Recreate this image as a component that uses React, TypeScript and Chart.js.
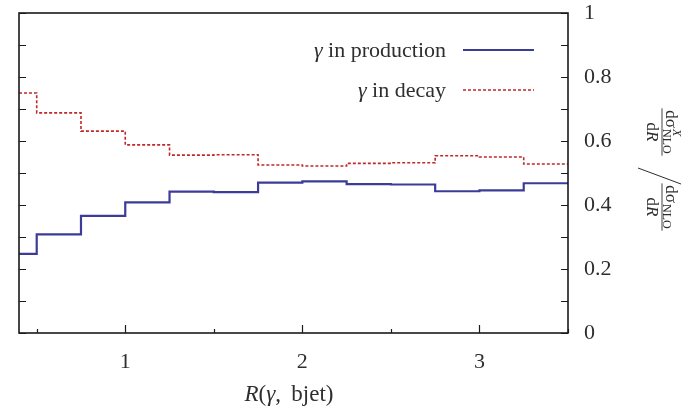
import React, { useEffect, useRef } from 'react';
import { Chart, registerables } from 'chart.js';

Chart.register(...registerables);

// ---- data ----
const binEdges = [0.4, 0.5, 0.75, 1.0, 1.25, 1.5, 1.75, 2.0, 2.25, 2.5, 2.75, 3.0, 3.25, 3.5];
const production = [0.247, 0.308, 0.366, 0.408, 0.442, 0.440, 0.470, 0.474, 0.465, 0.464, 0.443, 0.446, 0.468];
const decay = [0.750, 0.688, 0.631, 0.588, 0.556, 0.557, 0.525, 0.522, 0.530, 0.532, 0.554, 0.550, 0.528];
const seriesLabels = ['in production', 'in decay'];
const xMajorTicks = [1, 2, 3];
const xMinorTicks = [0.5, 1.5, 2.5, 3.5];
const yTickValues = [0, 0.1, 0.2, 0.3, 0.4, 0.5, 0.6, 0.7, 0.8, 0.9, 1.0];

const FONT = '"Liberation Serif", "DejaVu Serif", serif';
const TEXT = '#2e2e2e';
const BLUE = '#3c3c98';
const RED = '#c0282a';

type Seg = { t: string; italic?: boolean; size: number; dy?: number };

function segWidth(ctx: CanvasRenderingContext2D, segs: Seg[]) {
  let w = 0;
  for (const s of segs) {
    ctx.font = `${s.italic ? 'italic ' : ''}${s.size}px ${FONT}`;
    w += ctx.measureText(s.t).width;
  }
  return w;
}

function drawSegs(ctx: CanvasRenderingContext2D, segs: Seg[], x: number, y: number) {
  let cx = x;
  for (const s of segs) {
    ctx.font = `${s.italic ? 'italic ' : ''}${s.size}px ${FONT}`;
    ctx.fillText(s.t, cx, y + (s.dy || 0));
    cx += ctx.measureText(s.t).width;
  }
  return cx;
}

// each bin value holds from its left edge to the next edge (last value repeated at the right edge)
function stepPoints(vals: number[]) {
  return binEdges.map((x, i) => ({ x, y: vals[Math.min(i, vals.length - 1)] }));
}

const decorPlugin = {
  id: 'decor',
  afterDraw(chart: any) {
    const ctx: CanvasRenderingContext2D = chart.ctx;
    const { left, right, top, bottom } = chart.chartArea;
    const xs = chart.scales.x;
    const ys = chart.scales.y;
    ctx.save();
    // frame
    ctx.strokeStyle = '#1a1a1a';
    ctx.lineWidth = 1.6;
    ctx.strokeRect(left, top, right - left, bottom - top);
    // y ticks (inward, both sides)
    ctx.lineWidth = 1.2;
    for (const v of yTickValues) {
      const py = Math.round(ys.getPixelForValue(v)) + 0.5;
      ctx.beginPath();
      ctx.moveTo(left, py); ctx.lineTo(left + 7, py);
      ctx.moveTo(right, py); ctx.lineTo(right - 7, py);
      ctx.stroke();
    }
    // x ticks
    for (const v of xMajorTicks) {
      const px = Math.round(xs.getPixelForValue(v)) + 0.5;
      ctx.beginPath(); ctx.moveTo(px, bottom); ctx.lineTo(px, bottom - 8); ctx.stroke();
    }
    for (const v of xMinorTicks) {
      const px = Math.round(xs.getPixelForValue(v)) + 0.5;
      ctx.beginPath(); ctx.moveTo(px, bottom); ctx.lineTo(px, bottom - 4); ctx.stroke();
    }

    // legend
    ctx.fillStyle = TEXT;
    ctx.textBaseline = 'alphabetic';
    const legendRight = 446;
    const rows = [
      { label: seriesLabels[0], y: 57, color: BLUE, dash: [] as number[], lw: 2.2 },
      { label: seriesLabels[1], y: 97, color: RED, dash: [3, 2], lw: 1.6 },
    ];
    for (const r of rows) {
      const segs: Seg[] = [{ t: 'γ', italic: true, size: 22 }, { t: ' ' + r.label, size: 22 }];
      const w = segWidth(ctx, segs);
      drawSegs(ctx, segs, legendRight - w, r.y);
      ctx.strokeStyle = r.color;
      ctx.lineWidth = r.lw;
      ctx.setLineDash(r.dash);
      ctx.beginPath();
      ctx.moveTo(463, r.y - 7);
      ctx.lineTo(534, r.y - 7);
      ctx.stroke();
      ctx.setLineDash([]);
    }

    // x title
    const xt: Seg[] = [
      { t: 'R', italic: true, size: 23 },
      { t: '(', size: 23 },
      { t: 'γ', italic: true, size: 23 },
      { t: ', \u2009bjet)', size: 23 },
    ];
    const xw = segWidth(ctx, xt);
    drawSegs(ctx, xt, 289 - xw / 2, 401);

    // y title (rotated clockwise)
    ctx.translate(662, 170);
    ctx.rotate(Math.PI / 2);
    const BIG = 17;
    const SMALL = 12;
    const drawFrac = (cx: number, hasX: boolean) => {
      ctx.font = `${BIG}px ${FONT}`;
      const wd = ctx.measureText('dσ').width;
      ctx.font = `${SMALL}px ${FONT}`;
      const wn = ctx.measureText('NLO').width;
      const numW = wd + wn + 1;
      const dR: Seg[] = [{ t: 'd', size: BIG }, { t: 'R', italic: true, size: BIG }];
      const wdR = segWidth(ctx, dR);
      const barW = Math.max(numW, wdR) + 4;
      const x0 = cx - numW / 2;
      ctx.font = `${BIG}px ${FONT}`;
      ctx.fillText('dσ', x0, -4);
      ctx.font = `${SMALL}px ${FONT}`;
      ctx.fillText('NLO', x0 + wd + 1, -1);
      if (hasX) {
        ctx.font = `italic ${SMALL}px ${FONT}`;
        ctx.fillText('X', x0 + wd + 1, -11);
      }
      ctx.strokeStyle = TEXT;
      ctx.lineWidth = 0.9;
      ctx.beginPath(); ctx.moveTo(cx - barW / 2, 0); ctx.lineTo(cx + barW / 2, 0); ctx.stroke();
      drawSegs(ctx, dR, cx - wdR / 2, 15);
    };
    drawFrac(-38, true);
    drawFrac(37, false);
    ctx.strokeStyle = TEXT;
    ctx.lineWidth = 1;
    ctx.beginPath(); ctx.moveTo(-2, 24); ctx.lineTo(14, -19); ctx.stroke();
    ctx.restore();
  },
};

export default function App() {
  const ref = useRef<HTMLCanvasElement>(null);
  useEffect(() => {
    document.body.style.margin = '0';
    const canvas = ref.current!;
    const chart = new Chart(canvas, {
      type: 'line',
      data: {
        datasets: [
          {
            label: 'γ ' + seriesLabels[0],
            data: stepPoints(production),
            borderColor: BLUE,
            borderWidth: 2.2,
            stepped: 'before',
            pointRadius: 0,
            fill: false,
          },
          {
            label: 'γ ' + seriesLabels[1],
            data: stepPoints(decay),
            borderColor: RED,
            borderWidth: 1.6,
            borderDash: [3, 2],
            stepped: 'before',
            pointRadius: 0,
            fill: false,
          },
        ],
      },
      options: {
        responsive: false,
        animation: false,
        layout: { padding: { left: 19, top: 13, right: 0, bottom: 0 } },
        plugins: { legend: { display: false }, tooltip: { enabled: false } },
        scales: {
          x: {
            type: 'linear',
            min: 0.4,
            max: 3.5,
            grid: { display: false, drawTicks: false },
            border: { display: false },
            afterBuildTicks: (s: any) => { s.ticks = xMajorTicks.map((v) => ({ value: v })); },
            afterFit: (s: any) => { s.height = 83; s.paddingLeft = 0; s.paddingRight = 0; },
            ticks: {
              font: { family: FONT, size: 22 },
              color: TEXT,
              padding: 16,
              maxRotation: 0,
              autoSkip: false,
              callback: (v: any) => String(v),
            },
          },
          y: {
            type: 'linear',
            position: 'right',
            min: 0,
            max: 1,
            grid: { display: false, drawTicks: false },
            border: { display: false },
            afterFit: (s: any) => { s.width = 125; s.paddingTop = 0; s.paddingBottom = 0; },
            ticks: {
              stepSize: 0.2,
              font: { family: FONT, size: 22 },
              color: TEXT,
              padding: 16,
              callback: (v: any) => (v === 0 || v === 1 ? String(v) : Number(v).toFixed(1)),
            },
          },
        },
      },
      plugins: [decorPlugin],
    });
    return () => chart.destroy();
  }, []);
  return <canvas ref={ref} width={693} height={416} style={{ display: 'block' }} />;
}
